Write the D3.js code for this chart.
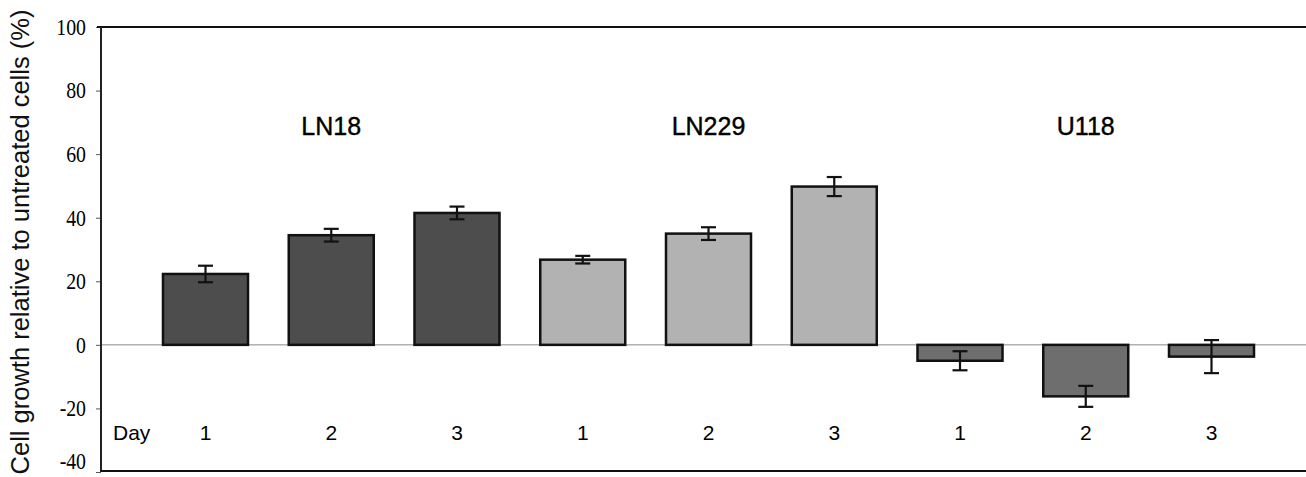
<!DOCTYPE html>
<html>
<head>
<meta charset="utf-8">
<script src="https://cdn.jsdelivr.net/npm/d3@7"></script>
<style>
  body { margin: 0; background: #fff; }
  svg { display: block; }
</style>
</head>
<body>
<script>
const cellLines = ["LN18", "LN229", "U118"];
const days = ["1", "2", "3"];
const growth = [
  [22.3, 34.5, 41.5],   // LN18
  [26.8, 35.0, 49.8],   // LN229
  [-5.0, -16.2, -3.7]   // U118
];
const errors = [
  [2.6, 2.0, 2.0],
  [1.2, 2.0, 3.0],
  [3.0, 3.3, 5.2]
];
const yTicks = [-40, -20, 0, 20, 40, 60, 80, 100];
const lineColors = ["#4d4d4d", "#b2b2b2", "#6e6e6e"];

const width = 1306, height = 477;
const svg = d3.select("body").append("svg").attr("width", width).attr("height", height);

// flatten to one row per bar
const bars = [];
cellLines.forEach((c, i) => days.forEach((d, j) => {
  bars.push({ key: c + "-" + d, line: i, day: d, value: growth[i][j], err: errors[i][j] });
}));

const left = 101;
const xScale = d3.scaleBand().domain(bars.map(b => b.key)).range([left, 1316])
  .paddingInner(0.324).paddingOuter(0.493);
const yScale = d3.scaleLinear().domain([-40, 100]).range([472, 27]);

// y axis ticks
const yAxis = d3.axisLeft(yScale).tickValues(yTicks).tickSize(5).tickPadding(10)
  .tickFormat(d => String(d));
const gy = svg.append("g").attr("transform", `translate(${left},0)`).call(yAxis);
gy.select(".domain").remove();
gy.selectAll(".tick line").attr("stroke", "#555");
gy.selectAll("text").attr("font-family", "'Liberation Serif', 'Times New Roman', serif")
  .attr("font-size", 23).attr("fill", "#000")
  .attr("transform", "scale(0.86,1)").attr("x", -15 / 0.86)
  .attr("dy", d => d === -40 ? "-0.15em" : "0.32em");

// zero line
svg.append("line").attr("x1", left).attr("x2", width)
  .attr("y1", yScale(0)).attr("y2", yScale(0))
  .attr("stroke", "#8a8a8a").attr("stroke-width", 1);

// bars
svg.selectAll("rect.bar").data(bars).enter().append("rect")
  .attr("class", "bar")
  .attr("x", d => xScale(d.key))
  .attr("width", xScale.bandwidth())
  .attr("y", d => yScale(Math.max(0, d.value)))
  .attr("height", d => Math.abs(yScale(d.value) - yScale(0)))
  .attr("fill", d => lineColors[d.line])
  .attr("stroke", "#111").attr("stroke-width", 2.5);

// error bars
const capW = 15;
const eb = svg.selectAll("g.err").data(bars).enter().append("g").attr("class", "err")
  .attr("stroke", "#111").attr("stroke-width", 2.2);
eb.append("line")
  .attr("x1", d => xScale(d.key) + xScale.bandwidth() / 2)
  .attr("x2", d => xScale(d.key) + xScale.bandwidth() / 2)
  .attr("y1", d => yScale(d.value + d.err))
  .attr("y2", d => yScale(d.value - d.err));
[1, -1].forEach(s => {
  eb.append("line")
    .attr("x1", d => xScale(d.key) + xScale.bandwidth() / 2 - capW / 2)
    .attr("x2", d => xScale(d.key) + xScale.bandwidth() / 2 + capW / 2)
    .attr("y1", d => yScale(d.value + s * d.err))
    .attr("y2", d => yScale(d.value + s * d.err));
});

// frame: top, left, bottom
svg.append("line").attr("x1", left - 4).attr("x2", width).attr("y1", 27).attr("y2", 27)
  .attr("stroke", "#111").attr("stroke-width", 2.2);
svg.append("line").attr("x1", left).attr("x2", left).attr("y1", 27).attr("y2", 472)
  .attr("stroke", "#222").attr("stroke-width", 2);
svg.append("line").attr("x1", left).attr("x2", width).attr("y1", 471).attr("y2", 471)
  .attr("stroke", "#111").attr("stroke-width", 2.2);

const sans = "'Liberation Sans', Arial, sans-serif";

// cell line labels above middle bar of each group
svg.selectAll("text.grp").data(cellLines).enter().append("text")
  .attr("class", "grp")
  .attr("x", (c) => xScale(c + "-2") + xScale.bandwidth() / 2)
  .attr("y", 135)
  .attr("text-anchor", "middle")
  .attr("font-family", sans).attr("font-size", 25).attr("fill", "#000")
  .attr("stroke", "#000").attr("stroke-width", 0.4)
  .text(c => c);

// day labels
svg.selectAll("text.day").data(bars).enter().append("text")
  .attr("class", "day")
  .attr("x", d => xScale(d.key) + xScale.bandwidth() / 2)
  .attr("y", 440)
  .attr("text-anchor", "middle")
  .attr("font-family", sans).attr("font-size", 21).attr("fill", "#000")
  .text(d => d.day);
svg.append("text").attr("x", 113).attr("y", 440)
  .attr("font-family", sans).attr("font-size", 21).attr("fill", "#000")
  .text("Day");

// y axis title
svg.append("text")
  .attr("transform", "translate(29,242) rotate(-90)")
  .attr("text-anchor", "middle")
  .attr("font-family", sans).attr("font-size", 25.5).attr("fill", "#111")
  .text("Cell growth relative to untreated cells (%)");
</script>
</body>
</html>
